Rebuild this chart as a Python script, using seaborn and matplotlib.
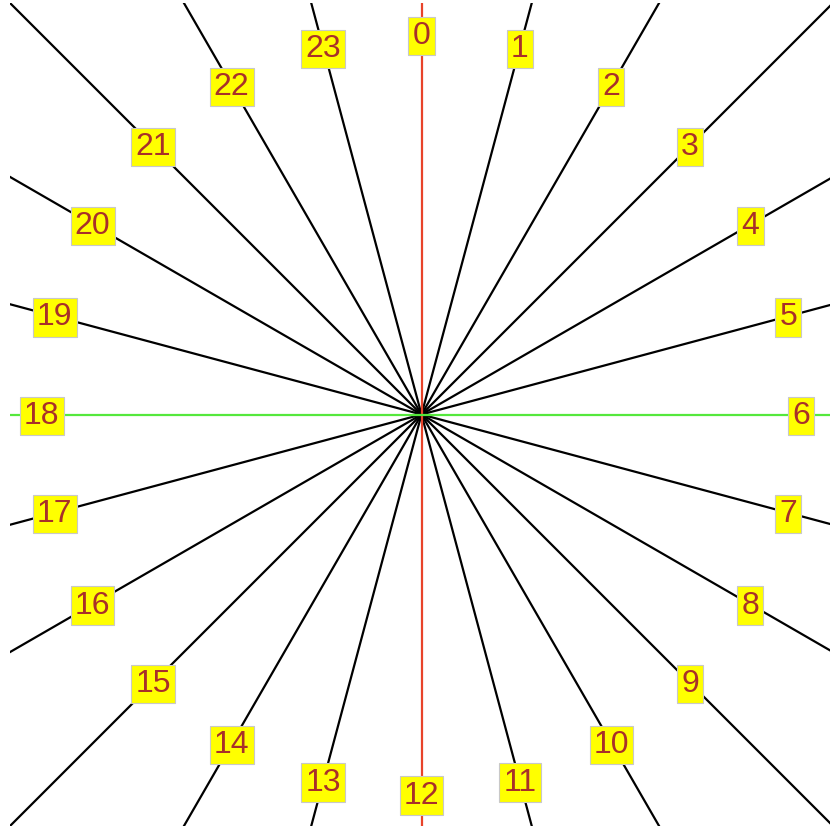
import numpy as np
import pandas as pd
import matplotlib
matplotlib.use("Agg")
import matplotlib.pyplot as plt
import seaborn as sns

# Datos: 24 horas como radios de un reloj (0 arriba, sentido horario)
horas = list(range(24))
etiquetas = [str(h) for h in horas]
radio_etiqueta = 0.923
radio_linea = 1.6

# Colores de cada radio
colores = {h: "black" for h in horas}
for h in (0, 12):
    colores[h] = "#e8432a"
for h in (6, 18):
    colores[h] = "#55e83c"

sns.set_theme(style="white")
plt.rcParams["font.family"] = ["Liberation Sans", "DejaVu Sans"]

# Tabla de segmentos: centro -> extremo de cada radio
filas = []
for h in horas:
    ang = np.deg2rad(h * 15)
    filas.append({"hora": h, "orden": 0, "x": 0.0, "y": 0.0})
    filas.append({"hora": h, "orden": 1, "x": radio_linea * np.sin(ang), "y": radio_linea * np.cos(ang)})
df = pd.DataFrame(filas)

fig = plt.figure(figsize=(8.3, 8.27), dpi=100)
ax = fig.add_axes([10 / 830, 1 / 827, 823 / 830, 823 / 827])

# primero los negros, luego los ejes de color encima
orden_horas = [h for h in horas if colores[h] == "black"] + [0, 12, 6, 18]
for h in orden_horas:
    sub = df[df["hora"] == h]
    sns.lineplot(data=sub, x="x", y="y", sort=False, estimator=None,
                 color=colores[h], linewidth=1.6, ax=ax, legend=False)

# etiquetas en cajas amarillas
for h, txt in zip(horas, etiquetas):
    ang = np.deg2rad(h * 15)
    ax.text(radio_etiqueta * np.sin(ang), radio_etiqueta * np.cos(ang) - 0.003, txt,
            ha="center", va="center", fontsize=23, color="#a8302a", zorder=5,
            bbox=dict(boxstyle="square,pad=0.13", facecolor="#ffff00",
                      edgecolor="#c8c8c8", linewidth=0.8))

ax.set_xlim(-1, 1)
ax.set_ylim(-1, 1)
ax.set_axis_off()

plt.savefig("out.png", dpi=100)
